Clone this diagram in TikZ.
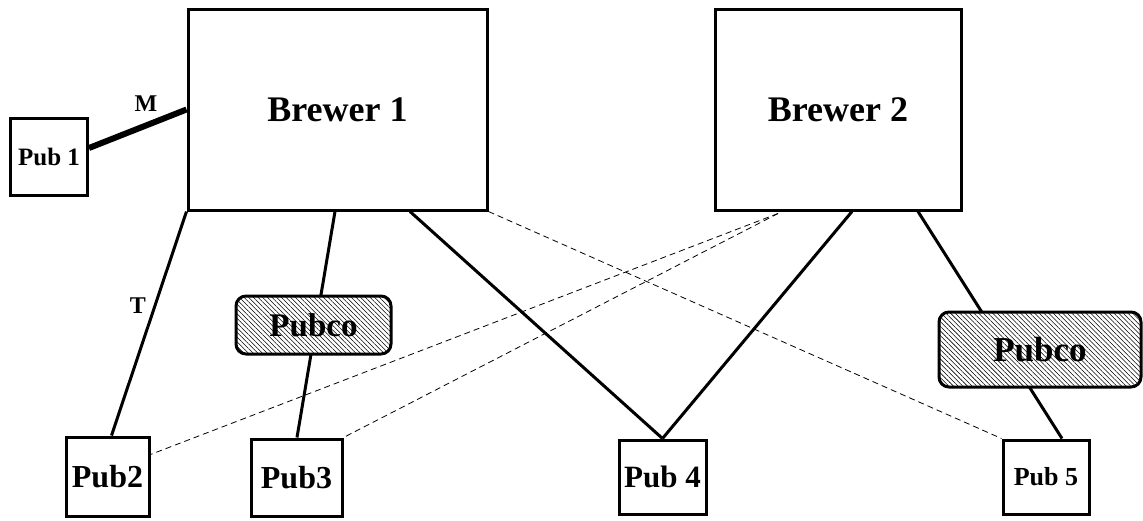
\documentclass[tikz,border=0pt]{standalone}
\usepackage{fontspec}
\setmainfont{Liberation Serif}
\usetikzlibrary{patterns.meta}
\begin{document}
\begin{tikzpicture}[x=1pt,y=-1pt,
  box/.style={draw,line width=3pt,inner sep=0pt,font=\bfseries,fill=white},
  brewer/.style={box,minimum width=299pt,minimum height=201pt,font=\bfseries\fontsize{36}{40}\selectfont},
  pub/.style={box,minimum width=84pt,minimum height=78pt},
  pubco/.style={draw,line width=3pt,rounded corners=10pt,inner sep=0pt,
     preaction={fill=white},
     pattern={Lines[angle=-45,distance=3.3pt,line width=0.55pt]},
     font=\bfseries},
  link/.style={line width=3pt},
  thicklink/.style={line width=6pt},
  dlink/.style={line width=0.8pt,dash pattern=on 6pt off 4pt},
  lbl/.style={font=\bfseries\fontsize{24}{26}\selectfont,inner sep=0pt}]
\useasboundingbox (0,0) rectangle (1143,520);
% boxes
\node[brewer] (b1) at (337.5,109.5) {Brewer 1};
\node[brewer,minimum width=246pt] (b2) at (838,109.5) {Brewer 2};
\node[pub,minimum width=77pt,minimum height=77pt,font=\bfseries\fontsize{25}{27}\selectfont] (p1) at (49,157) {Pub 1};
\node[pub,minimum width=83pt,minimum height=79pt,font=\bfseries\fontsize{32}{34}\selectfont] (p2) at (107.5,476.5) {Pub2};
\node[pub,minimum width=91pt,minimum height=77pt,font=\bfseries\fontsize{32}{34}\selectfont] (p3) at (296.5,477.5) {Pub3};
\node[pub,minimum width=87pt,minimum height=74pt,font=\bfseries\fontsize{31}{33}\selectfont] (p4) at (662.5,477) {Pub 4};
\node[pub,minimum width=86pt,minimum height=74pt,font=\bfseries\fontsize{26}{28}\selectfont] (p5) at (1046,477) {Pub 5};
% connectors behind pubco
\draw[link] (b1.south west) -- ([xshift=4pt]p2.north);
\draw[link] ([xshift=-2.5pt]b1.south) -- ([xshift=0.5pt]p3.north);
\draw[link] ([xshift=72.5pt]b1.south) -- (p4.north);
\draw[link] ([xshift=14pt]b2.south) -- (p4.north);
\draw[link] ([xshift=80pt]b2.south) -- ([xshift=16pt]p5.north);
\draw[thicklink] ([yshift=9pt]p1.east) -- (b1.west);
\coordinate (b2d) at ([xshift=-60pt,yshift=-2pt]b2.south);
\draw[dlink] (b1.south east) -- (p5.north west);
\draw[dlink] (b2d) -- ([yshift=22pt]p2.east);
\draw[dlink] (b2d) -- (p3.north east);
% pubcos
\node[pubco,minimum width=155pt,minimum height=58pt,font=\bfseries\fontsize{33}{35}\selectfont] (pc1) at (313.5,325) {Pubco};
\node[pubco,minimum width=202pt,minimum height=75pt,font=\bfseries\fontsize{35}{37}\selectfont] (pc2) at (1040,349.5) {Pubco};
% labels
\node[lbl] (lm) at (146,104) {M};
\node[lbl] (lt) at (138,306) {T};
\end{tikzpicture}
\end{document}
